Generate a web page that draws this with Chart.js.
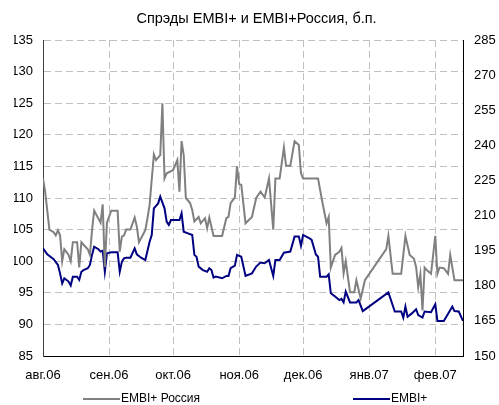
<!DOCTYPE html>
<html>
<head>
<meta charset="utf-8">
<script src="https://cdn.jsdelivr.net/npm/chart.js@4.4.1/dist/chart.umd.min.js"></script>
<style>
  html, body { margin: 0; padding: 0; background: #fff; }
  #wrap { width: 499px; height: 405px; }
</style>
</head>
<body>
<div id="wrap"><canvas id="c" width="499" height="405"></canvas></div>
<script>
const chartTitle = 'Спрэды EMBI+ и EMBI+Россия, б.п.';
const monthTicks = ['2006-08-01','2006-09-01','2006-10-01','2006-11-01','2006-12-01','2007-01-01','2007-02-01'];
const monthLabels = ['авг.06','сен.06','окт.06','ноя.06','дек.06','янв.07','фев.07'];
const axisStart = '2006-08-01';
const axisEnd = '2007-02-14';

const russiaLabel = 'EMBI+ Россия';
const russiaDates = ['2006-08-01','2006-08-02','2006-08-04','2006-08-06','2006-08-07','2006-08-08','2006-08-09','2006-08-10','2006-08-11','2006-08-13','2006-08-14','2006-08-15','2006-08-17','2006-08-18','2006-08-19','2006-08-20','2006-08-22','2006-08-23','2006-08-24','2006-08-25','2006-08-28','2006-08-29','2006-08-30','2006-08-31','2006-09-02','2006-09-05','2006-09-06','2006-09-07','2006-09-08','2006-09-09','2006-09-11','2006-09-13','2006-09-14','2006-09-15','2006-09-18','2006-09-19','2006-09-20','2006-09-22','2006-09-23','2006-09-25','2006-09-26','2006-09-27','2006-09-28','2006-10-01','2006-10-03','2006-10-04','2006-10-05','2006-10-06','2006-10-07','2006-10-09','2006-10-10','2006-10-11','2006-10-13','2006-10-14','2006-10-16','2006-10-17','2006-10-18','2006-10-20','2006-10-24','2006-10-26','2006-10-27','2006-10-28','2006-10-30','2006-10-31','2006-11-01','2006-11-02','2006-11-04','2006-11-07','2006-11-09','2006-11-11','2006-11-13','2006-11-15','2006-11-17','2006-11-18','2006-11-20','2006-11-22','2006-11-23','2006-11-25','2006-11-27','2006-11-29','2006-11-30','2006-12-01','2006-12-08','2006-12-10','2006-12-12','2006-12-13','2006-12-14','2006-12-16','2006-12-18','2006-12-19','2006-12-20','2006-12-21','2006-12-23','2006-12-25','2006-12-26','2006-12-28','2006-12-30','2007-01-09','2007-01-10','2007-01-12','2007-01-16','2007-01-17','2007-01-18','2007-01-20','2007-01-22','2007-01-23','2007-01-24','2007-01-25','2007-01-26','2007-01-27','2007-01-28','2007-01-30','2007-02-01','2007-02-02','2007-02-03','2007-02-05','2007-02-07','2007-02-08','2007-02-10','2007-02-14'];
const russiaSpread = [113.1,111,105,104.6,104.1,104.9,104.1,100,101.9,101,100,103,103,99,103,102.6,101.9,101,104.9,108,106.1,109,99.1,106.1,108,108,101.5,103.9,104.1,105,105,106.9,105.5,103,104.9,106.8,108.9,116.9,116,116.8,125,113.1,113.9,114.4,116,111,119,116.8,110,109.2,108.1,106.3,107,106,106.8,105.2,106.9,104,104,106.8,107,109.2,110.1,115,112.2,112.1,106,107,110,111,110.1,113.1,105,113.1,113.1,118,115.1,115.1,119,118.4,113.9,113.1,113.1,109.4,106,107,99,101,101.5,102.1,98.1,100,95.1,95.1,97,94.1,97,101.9,104,98,98,101,104,101,100.4,99.1,95.9,98,92.2,99,98.6,98,104,98,99,98.9,98,101,97,97];

const embiLabel = 'EMBI+';
const embiDates = ['2006-08-01','2006-08-03','2006-08-06','2006-08-08','2006-08-09','2006-08-10','2006-08-11','2006-08-13','2006-08-14','2006-08-15','2006-08-17','2006-08-18','2006-08-19','2006-08-20','2006-08-22','2006-08-23','2006-08-24','2006-08-25','2006-08-27','2006-08-28','2006-08-29','2006-08-30','2006-08-31','2006-09-02','2006-09-05','2006-09-06','2006-09-07','2006-09-08','2006-09-09','2006-09-11','2006-09-13','2006-09-14','2006-09-16','2006-09-18','2006-09-20','2006-09-21','2006-09-22','2006-09-24','2006-09-25','2006-09-27','2006-09-28','2006-09-29','2006-09-30','2006-10-04','2006-10-05','2006-10-06','2006-10-08','2006-10-10','2006-10-11','2006-10-12','2006-10-13','2006-10-15','2006-10-17','2006-10-18','2006-10-19','2006-10-20','2006-10-21','2006-10-24','2006-10-26','2006-10-27','2006-10-28','2006-10-30','2006-10-31','2006-11-02','2006-11-04','2006-11-07','2006-11-09','2006-11-11','2006-11-13','2006-11-15','2006-11-17','2006-11-18','2006-11-20','2006-11-22','2006-11-25','2006-11-27','2006-11-29','2006-11-30','2006-12-01','2006-12-04','2006-12-05','2006-12-07','2006-12-08','2006-12-09','2006-12-12','2006-12-13','2006-12-14','2006-12-16','2006-12-18','2006-12-19','2006-12-20','2006-12-21','2006-12-23','2006-12-26','2006-12-27','2006-12-29','2007-01-10','2007-01-13','2007-01-16','2007-01-17','2007-01-18','2007-01-19','2007-01-21','2007-01-23','2007-01-24','2007-01-26','2007-01-27','2007-01-30','2007-02-01','2007-02-02','2007-02-05','2007-02-09','2007-02-10','2007-02-12','2007-02-14'];
const embiSpread = [196,193.4,191.4,188.9,185.3,181,183.2,181.8,180.1,183.9,183.9,182.5,186,186.7,187.5,188.9,193.2,196.7,195.6,194.6,195,186,193.9,194.3,194.3,186,190.3,191.7,192,192,196,193.4,192,191,198.8,201.7,213.1,215.2,218.1,213.1,207.4,206,208.1,208.1,211,203.1,202.4,201.7,193.2,192.4,188.2,186.7,186,187.5,186.7,183.5,183.9,183.2,184.2,184.2,187.5,188.6,193.2,192.4,184.2,185.3,188.2,189.9,189.6,191,184.2,191,191,194.1,194.6,201,201,197.1,201.7,200.3,199.6,193.4,192.4,183.9,183.9,184.9,176.8,175.4,173.9,174.4,172.9,177.5,172.9,172.9,173.9,169.2,177.2,169,169,166.4,171.1,166.8,168.2,170,167.5,166.4,169,168.7,172.1,165,165,171.1,169.2,169,165];

const leftMin = 85, leftMax = 135, leftStep = 5;
const rightMin = 150, rightMax = 285, rightStep = 15;

function dayOf(s) {
  const p = s.split('-').map(Number);
  const a = axisStart.split('-').map(Number);
  return Math.round((Date.UTC(p[0], p[1] - 1, p[2]) - Date.UTC(a[0], a[1] - 1, a[2])) / 86400000);
}
const toPoints = (dates, vals) => dates.map((d, i) => ({ x: dayOf(d), y: vals[i] }));

const FONT = '"Liberation Sans", Arial, sans-serif';
Chart.defaults.font.family = FONT;
Chart.defaults.color = '#000';

const bottomLegend = {
  id: 'bottomLegend',
  afterDraw(chart, args, opts) {
    const ctx = chart.ctx;
    chart.data.datasets.forEach((ds, i) => {
      const x = opts.starts[i], y = opts.y;
      ctx.save();
      ctx.strokeStyle = ds.borderColor;
      ctx.lineWidth = ds.borderWidth;
      ctx.beginPath();
      ctx.moveTo(x, y);
      ctx.lineTo(x + opts.lineLength, y);
      ctx.stroke();
      ctx.fillStyle = '#000';
      ctx.font = opts.fontSize + 'px ' + FONT;
      ctx.textBaseline = 'middle';
      ctx.textAlign = 'left';
      ctx.fillText(ds.label, x + opts.lineLength + opts.gap, y);
      ctx.restore();
    });
  }
};

new Chart(document.getElementById('c'), {
  type: 'line',
  data: {
    datasets: [
      { label: russiaLabel, data: toPoints(russiaDates, russiaSpread), yAxisID: 'y',
        borderColor: '#808080', borderWidth: 2, pointRadius: 0, tension: 0, fill: false },
      { label: embiLabel, data: toPoints(embiDates, embiSpread), yAxisID: 'y2',
        borderColor: '#000080', borderWidth: 2, pointRadius: 0, tension: 0, fill: false }
    ]
  },
  options: {
    responsive: false,
    devicePixelRatio: 1,
    animation: false,
    layout: { padding: { left: 14, right: 0, top: 0, bottom: 21 } },
    plugins: {
      legend: { display: false },
      tooltip: { enabled: false },
      title: { display: true, text: chartTitle, color: '#000',
        font: { size: 14.5, weight: 'normal' }, padding: { top: 10, bottom: 12.6 } },
      bottomLegend: { starts: [83, 353], y: 399, lineLength: 37, gap: 1, fontSize: 12 }
    },
    scales: {
      x: {
        type: 'linear', min: 0, max: dayOf(axisEnd),
        afterBuildTicks(s) { s.ticks = monthTicks.map(d => ({ value: dayOf(d) })); },
        afterFit(s) { s.height = 28; },
        ticks: { autoSkip: false, maxRotation: 0, padding: 12, color: '#000', font: { size: 13 },
          callback: (v, i) => monthLabels[i] },
        grid: { color: '#c0c0c0', lineWidth: 1, drawTicks: false },
        border: { display: true, color: '#000', width: 1, dash: [7, 4] }
      },
      y: {
        position: 'left', min: leftMin, max: leftMax,
        afterFit(s) { s.width = 29; },
        ticks: { stepSize: leftStep, padding: 10, color: '#000', font: { size: 13 } },
        grid: { color: '#c0c0c0', lineWidth: 1, drawTicks: false },
        border: { display: true, color: '#404040', width: 1, dash: [7, 4] }
      },
      y2: {
        position: 'right', min: rightMin, max: rightMax,
        afterFit(s) { s.width = 36; },
        ticks: { stepSize: rightStep, padding: 11, color: '#000', font: { size: 13 } },
        grid: { drawOnChartArea: false, drawTicks: false },
        border: { display: true, color: '#000', width: 1 }
      }
    }
  },
  plugins: [bottomLegend]
});
</script>
</body>
</html>
